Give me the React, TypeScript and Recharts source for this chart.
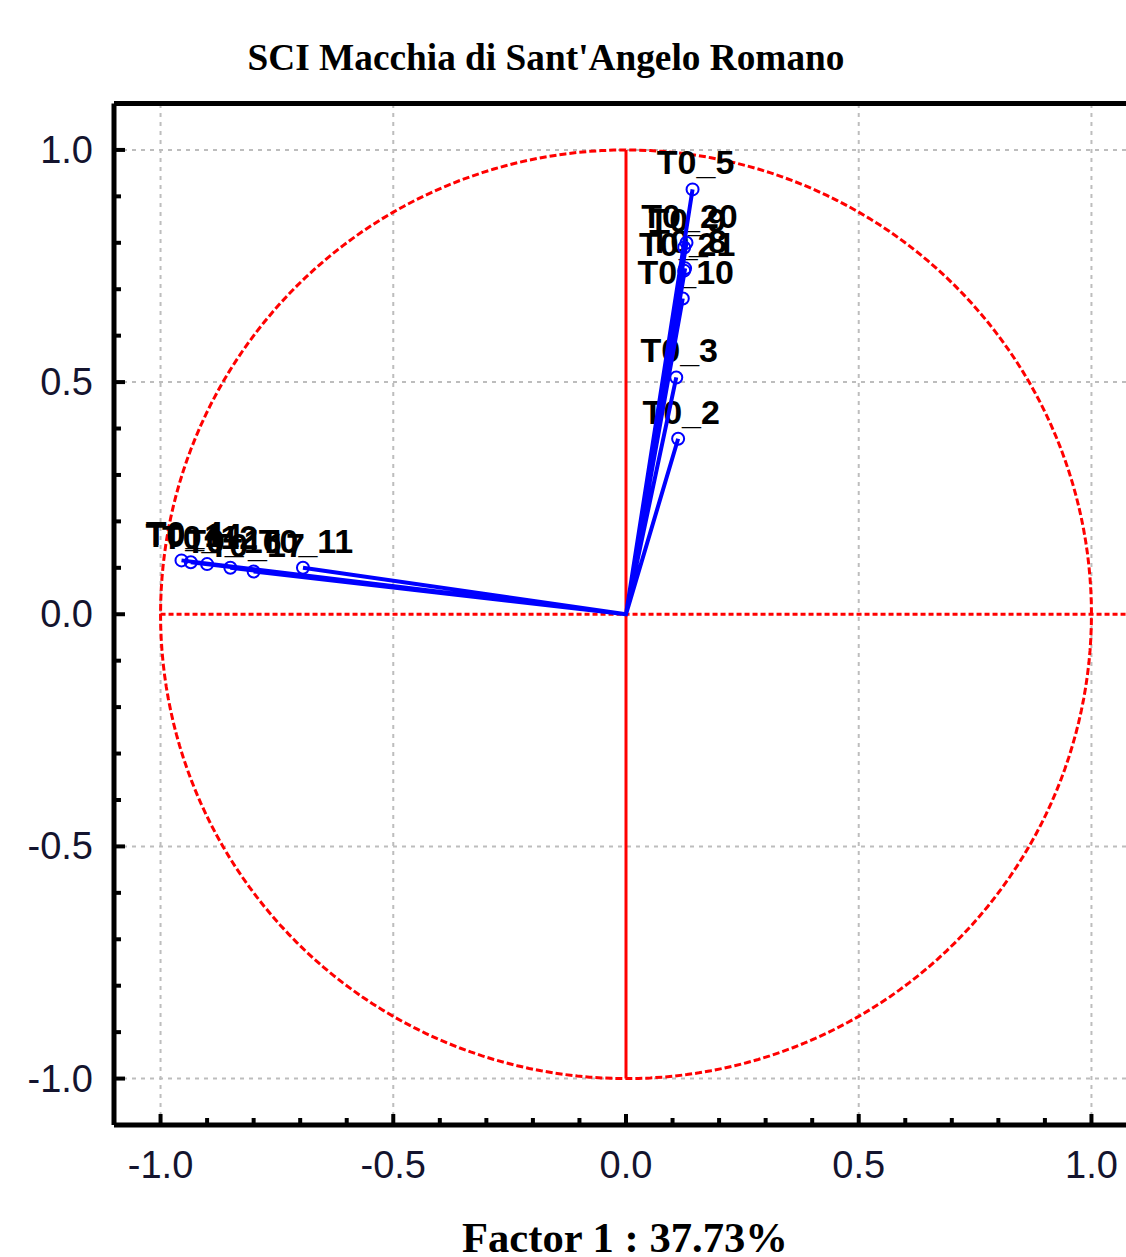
import React from 'react';
import { ScatterChart, Scatter, XAxis, YAxis, ReferenceLine } from 'recharts';

// ---- data ----
const variableNames = [
  'T0_5', 'T0_20', 'T0_9', 'T0_8', 'T0_21', 'T0_10', 'T0_3', 'T0_2',
  'T0_4', 'T0_14', 'T0_12', 'T0_16', 'T0_17', 'T0_11',
];
const factor1 = [
  0.143, 0.130, 0.125, 0.127, 0.125, 0.122, 0.108, 0.112,
  -0.955, -0.935, -0.900, -0.850, -0.800, -0.694,
];
const factor2 = [
  0.915, 0.800, 0.790, 0.745, 0.740, 0.680, 0.510, 0.378,
  0.116, 0.112, 0.108, 0.100, 0.092, 0.100,
];

const axisTicks = [
  -1.0, -0.9, -0.8, -0.7, -0.6, -0.5, -0.4, -0.3, -0.2, -0.1, 0.0,
  0.1, 0.2, 0.3, 0.4, 0.5, 0.6, 0.7, 0.8, 0.9, 1.0,
];
const majorTicks = [-1.0, -0.5, 0.0, 0.5, 1.0];
const gridValues = [-1.0, -0.5, 0.5, 1.0];

const titleText = "SCI Macchia di Sant'Angelo Romano";
const xAxisTitle = 'Factor 1 : 37.73%';

// derived tables
const loadings = variableNames.map((name, i) => ({ name, x: factor1[i], y: factor2[i] }));
const vectorSegments = loadings.flatMap((p) => [
  { x: 0, y: 0 },
  { x: p.x, y: p.y },
]);
// unit correlation circle (geometric reference, radius 1)
const unitCircle = Array.from({ length: 241 }, (_, k) => {
  const a = (k / 240) * Math.PI * 2;
  return { x: Math.cos(a), y: Math.sin(a) };
});

const isMajor = (v: number) => majorTicks.some((m) => Math.abs(m - v) < 1e-9);
const fmt = (v: number) => (Math.abs(v) < 1e-9 ? '0.0' : v.toFixed(1));

const TICK_FONT = "'Liberation Sans', Arial, sans-serif";
const TICK_COLOR = '#14142e';

const BottomTick = (props: any) => {
  const { x, y, payload } = props;
  const v = payload.value;
  const major = isMajor(v);
  return (
    <g>
      <line x1={x} x2={x} y1={y} y2={y - (major ? 11 : 7)} stroke="#000" strokeWidth={4} />
      {major && (
        <text x={x} y={y + 53} textAnchor="middle" fontFamily={TICK_FONT} fontSize={38} fill={TICK_COLOR}>
          {fmt(v)}
        </text>
      )}
    </g>
  );
};

const TopTick = (props: any) => {
  const { x, y, payload } = props;
  const major = isMajor(payload.value);
  return <line x1={x} x2={x} y1={y} y2={y + (major ? 11 : 7)} stroke="#000" strokeWidth={4} />;
};

const LeftTick = (props: any) => {
  const { x, y, payload } = props;
  const v = payload.value;
  const major = isMajor(v);
  return (
    <g>
      <line x1={x} x2={x + (major ? 11 : 7)} y1={y} y2={y} stroke="#000" strokeWidth={4} />
      {major && (
        <text x={x - 21} y={y + 13} textAnchor="end" fontFamily={TICK_FONT} fontSize={38} fill={TICK_COLOR}>
          {fmt(v)}
        </text>
      )}
    </g>
  );
};

const NoShape = () => <g />;

const LabelShape = (props: any) => {
  const { cx, cy, payload } = props;
  return (
    <text
      x={cx + 3}
      y={cy - 15}
      textAnchor="middle"
      fontFamily={TICK_FONT}
      fontWeight="bold"
      fontSize={34}
      fill="#000"
    >
      {payload.name}
    </text>
  );
};

const MarkerShape = (props: any) => {
  const { cx, cy } = props;
  return <circle cx={cx} cy={cy} r={6} fill="none" stroke="#0000ff" strokeWidth={2} />;
};

export default function App() {
  return (
    <div
      style={{
        position: 'absolute',
        left: 0,
        top: 0,
        width: 1126,
        height: 1257,
        overflow: 'hidden',
        background: '#fff',
      }}
    >
      <ScatterChart
        width={1160}
        height={1257}
        margin={{ top: 83.5, right: 22, bottom: 72, left: 54 }}
      >
        <XAxis
          type="number"
          dataKey="x"
          domain={[-1.1, 1.1]}
          allowDataOverflow
          ticks={axisTicks}
          interval={0}
          tick={(p: any) => <BottomTick {...p} />}
          tickLine={false}
          tickSize={0}
          tickMargin={0}
          height={60}
          axisLine={{ stroke: '#000', strokeWidth: 5 }}
        />
        <XAxis
          xAxisId="top"
          orientation="top"
          type="number"
          domain={[-1.1, 1.1]}
          allowDataOverflow
          ticks={axisTicks}
          interval={0}
          tick={(p: any) => <TopTick {...p} />}
          tickLine={false}
          tickSize={0}
          tickMargin={0}
          height={20}
          axisLine={{ stroke: '#000', strokeWidth: 5 }}
        />
        <YAxis
          type="number"
          dataKey="y"
          domain={[-1.1, 1.1]}
          allowDataOverflow
          ticks={axisTicks}
          interval={0}
          tick={(p: any) => <LeftTick {...p} />}
          tickLine={false}
          tickSize={0}
          tickMargin={0}
          width={60}
          axisLine={{ stroke: '#000', strokeWidth: 5 }}
        />

        {gridValues.map((v) => (
          <ReferenceLine key={'gx' + v} x={v} stroke="#bdbdbd" strokeWidth={2} strokeDasharray="4 5" />
        ))}
        {gridValues.map((v) => (
          <ReferenceLine key={'gy' + v} y={v} stroke="#bdbdbd" strokeWidth={2} strokeDasharray="4 5" />
        ))}

        <ReferenceLine
          segment={[
            { x: 0, y: -1 },
            { x: 0, y: 1 },
          ]}
          stroke="#ff0000"
          strokeWidth={3}
        />
        <ReferenceLine
          segment={[
            { x: -1, y: 0 },
            { x: 1.1, y: 0 },
          ]}
          stroke="#ff0000"
          strokeWidth={3}
          strokeDasharray="5 3"
        />

        <Scatter
          data={unitCircle}
          line={{ stroke: '#ff0000', strokeWidth: 3, strokeDasharray: '7 3' }}
          shape={NoShape}
          isAnimationActive={false}
        />
        <Scatter data={loadings} shape={LabelShape} isAnimationActive={false} />
        <Scatter
          data={vectorSegments}
          line={{ stroke: '#0000ff', strokeWidth: 4 }}
          shape={NoShape}
          isAnimationActive={false}
        />
        <Scatter data={loadings} shape={MarkerShape} isAnimationActive={false} />
      </ScatterChart>

      <svg
        width={1126}
        height={1257}
        style={{ position: 'absolute', left: 0, top: 0, pointerEvents: 'none' }}
      >
        <text
          x={546}
          y={70}
          textAnchor="middle"
          fontFamily="'Liberation Serif', 'Times New Roman', serif"
          fontWeight="bold"
          fontSize={38}
          textLength={597}
          lengthAdjust="spacingAndGlyphs"
          fill="#000"
        >
          {titleText}
        </text>
        <text
          x={625}
          y={1252}
          textAnchor="middle"
          fontFamily="'Liberation Serif', 'Times New Roman', serif"
          fontWeight="bold"
          fontSize={42}
          textLength={326}
          lengthAdjust="spacingAndGlyphs"
          fill="#000"
        >
          {xAxisTitle}
        </text>
      </svg>
    </div>
  );
}
